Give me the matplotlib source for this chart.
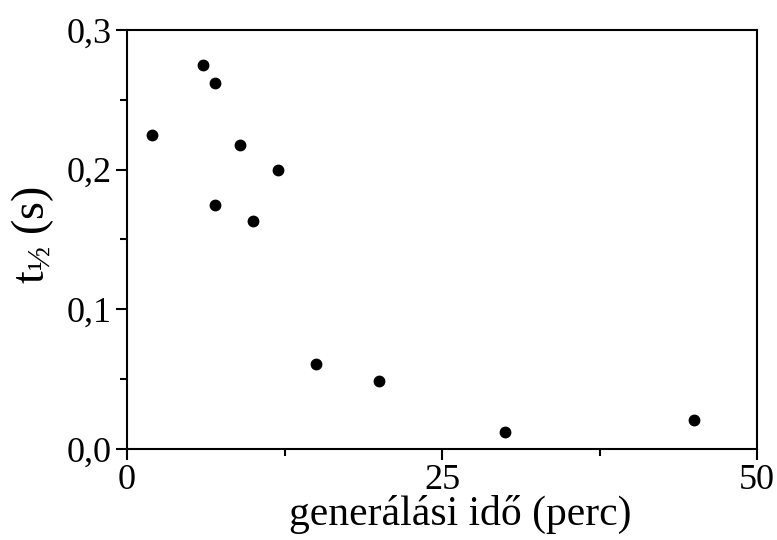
import matplotlib
matplotlib.use('Agg')
import matplotlib.pyplot as plt
from matplotlib.ticker import FuncFormatter, MultipleLocator

# generálási idő (perc) vs felezési idő (s)
gen_time = [2, 6, 7, 7, 9, 10, 12, 15, 20, 30, 45]
t_half = [0.225, 0.275, 0.262, 0.175, 0.218, 0.163, 0.200, 0.061, 0.049, 0.012, 0.021]

plt.rcParams['font.family'] = ['Liberation Serif', 'DejaVu Serif']
plt.rcParams['mathtext.fontset'] = 'custom'
plt.rcParams['mathtext.rm'] = 'Liberation Serif'
plt.rcParams['mathtext.it'] = 'Liberation Serif'

fig = plt.figure(figsize=(7.77, 5.40), dpi=100)
ax = fig.add_axes([127 / 777, 91 / 540, 630 / 777, 419 / 540])

ax.plot(gen_time, t_half, 'o', color='black', markersize=7.5)

ax.set_xlim(0, 50)
ax.set_ylim(0, 0.3)
ax.xaxis.set_major_locator(MultipleLocator(25))
ax.xaxis.set_minor_locator(MultipleLocator(12.5))
ax.yaxis.set_major_locator(MultipleLocator(0.1))
ax.yaxis.set_minor_locator(MultipleLocator(0.05))
ax.yaxis.set_major_formatter(FuncFormatter(lambda v, p: ('%.1f' % v).replace('.', ',')))

for s in ax.spines.values():
    s.set_linewidth(1.5)
ax.tick_params(which='both', direction='out', width=1.5, labelsize=26, top=False, right=False)
ax.tick_params(which='major', length=8, pad=3)
ax.tick_params(which='minor', length=5)

ax.set_xlabel('generálási idő (perc)', fontsize=30)
ax.xaxis.set_label_coords(0.529, -0.11, transform=ax.transAxes)
ax.xaxis.label.set_va('top')
ax.set_ylabel(r'$\mathrm{t}_{½}$ (s)', fontsize=33)
ax.yaxis.set_label_coords(-0.112, 0.51, transform=ax.transAxes)

fig.savefig('out.png', dpi=100)
